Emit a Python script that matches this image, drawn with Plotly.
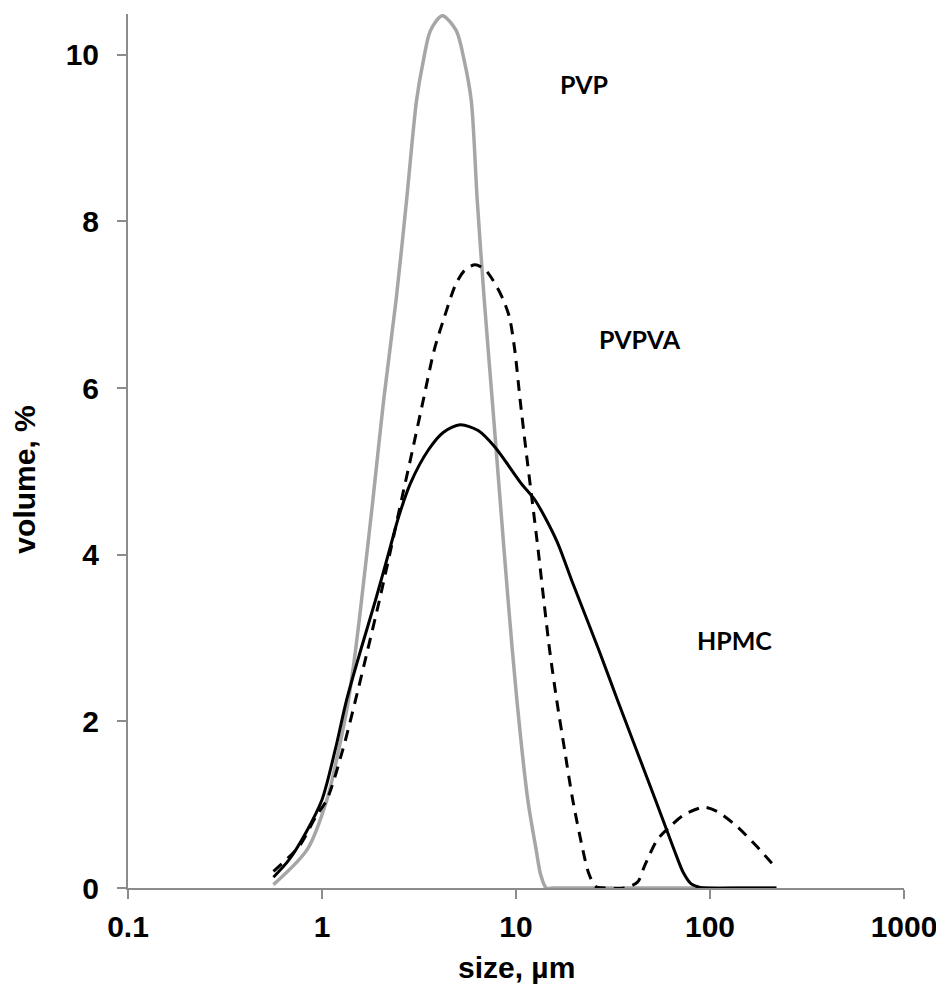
import plotly.graph_objects as go

# PVP (grey solid)
pvp_x = [0.562, 0.838, 1.06, 1.22, 1.37, 1.49, 1.60, 1.83, 2.08, 2.41, 2.73, 3.07, 3.33, 3.62,
         4.17, 4.92, 5.41, 5.88, 6.31, 6.86, 7.54, 8.28, 9.1, 10.1, 11.5, 12.7, 13.4,
         14.3, 15.5, 20, 30, 50, 100, 220]
pvp_y = [0.04, 0.46, 1.06, 1.66, 2.26, 2.86, 3.46, 4.66, 5.86, 7.06, 8.26, 9.45, 9.93, 10.29,
         10.47, 10.29, 9.93, 9.45, 8.26, 7.06, 5.86, 4.66, 3.46, 2.26, 1.06, 0.46, 0.16,
         0.0, 0.0, 0.0, 0.0, 0.0, 0.0, 0.0]

# HPMC (black solid)
hpmc_x = [0.562, 0.677, 0.828, 1.0, 1.17, 1.34, 1.585, 1.89, 2.23, 2.48, 2.86, 3.54, 4.23, 5.16,
          6.38, 7.8, 10.6, 12.5, 14.1, 16.4, 19.6, 26.7, 33.3, 52.3, 65.3, 72.7, 80.0, 87.9,
          97, 150, 220]
hpmc_y = [0.13, 0.34, 0.67, 1.06, 1.66, 2.26, 2.86, 3.46, 4.06, 4.45, 4.86, 5.26, 5.47, 5.56,
          5.49, 5.29, 4.86, 4.66, 4.45, 4.14, 3.66, 2.86, 2.26, 1.06, 0.46, 0.19, 0.05, 0.01,
          0.0, 0.0, 0.0]

# PVPVA (black dashed)
pvpva_x = [0.562, 0.762, 0.931, 1.06, 1.28, 1.49, 1.72, 1.98, 2.26, 2.57, 2.93, 3.33, 3.79, 4.27,
           4.92, 5.47, 6.16, 6.94, 7.86, 8.6, 9.25, 9.85, 10.5, 11.25, 12.1, 13.0, 13.9, 14.9,
           16.2, 17.8, 19.6, 22.1, 23.6, 25.7, 28.5, 36.2, 42.3, 45.9, 53.5, 62.4, 73.6, 93.1,
           108.6, 137.5, 174, 215]
pvpva_y = [0.2, 0.50, 0.86, 1.06, 1.66, 2.26, 2.86, 3.46, 4.06, 4.66, 5.26, 5.86, 6.46, 6.85,
           7.26, 7.42, 7.48, 7.42, 7.24, 7.06, 6.85, 6.46, 5.86, 5.26, 4.66, 4.06, 3.46, 2.86,
           2.26, 1.66, 1.06, 0.46, 0.19, 0.02, 0.0, 0.0, 0.07, 0.26, 0.58, 0.74, 0.88, 0.97,
           0.92, 0.74, 0.50, 0.26]

x_tickvals = [0.1, 1, 10, 100, 1000]
x_ticktext = ["0.1", "1", "10", "100", "1000"]
y_tickvals = [0, 2, 4, 6, 8, 10]
y_ticktext = ["0", "2", "4", "6", "8", "10"]

fig = go.Figure()
fig.add_trace(go.Scatter(x=pvp_x, y=pvp_y, mode="lines", name="PVP",
                         line=dict(color="#A6A6A6", width=3.5, shape="spline", smoothing=0.8)))
fig.add_trace(go.Scatter(x=hpmc_x, y=hpmc_y, mode="lines", name="HPMC",
                         line=dict(color="#000000", width=3, shape="spline", smoothing=0.8)))
fig.add_trace(go.Scatter(x=pvpva_x, y=pvpva_y, mode="lines", name="PVPVA",
                         line=dict(color="#000000", width=3, dash="11px,8px", shape="spline", smoothing=0.8)))

axis_font = dict(family="Liberation Sans, Arial, sans-serif", size=30, color="#000000", weight="bold")
label_font = dict(family="Lato, sans-serif", size=25, color="#000000", weight="bold")

# page body has an 8px default margin, so the figure is sized/placed to compensate
fig.update_layout(
    width=936, height=981,
    margin=dict(l=120, r=40, t=6, b=101, autoexpand=False),
    paper_bgcolor="white", plot_bgcolor="white",
    showlegend=False,
    font=axis_font,
    xaxis=dict(type="log", range=[-1, 3], tickvals=x_tickvals, ticktext=x_ticktext,
               automargin=False,
               showgrid=False, zeroline=False, showline=True, linecolor="#8C8C8C", linewidth=2,
               ticks="outside", ticklen=9, tickwidth=2, tickcolor="#8C8C8C",
               tickfont=axis_font, ticklabelstandoff=2),
    yaxis=dict(range=[0, 10.49], tickvals=y_tickvals, ticktext=y_ticktext,
               automargin=False,
               showgrid=False, zeroline=False, showline=True, linecolor="#8C8C8C", linewidth=2,
               ticks="outside", ticklen=9, tickwidth=2, tickcolor="#8C8C8C",
               tickfont=axis_font, ticklabelstandoff=12),
    annotations=[
        dict(text="size, µm", xref="paper", yref="paper", x=0.5, y=-0.091,
             xanchor="center", yanchor="middle", showarrow=False, font=axis_font),
        dict(text="volume, %", xref="paper", yref="paper", x=-0.133, y=0.467,
             xanchor="center", yanchor="middle", showarrow=False, textangle=-90, font=axis_font),
        dict(text="PVP", xref="paper", yref="paper", x=0.554, y=0.920,
             xanchor="left", yanchor="middle", showarrow=False, font=label_font),
        dict(text="PVPVA", xref="paper", yref="paper", x=0.604, y=0.628,
             xanchor="left", yanchor="middle", showarrow=False, font=label_font),
        dict(text="HPMC", xref="paper", yref="paper", x=0.731, y=0.284,
             xanchor="left", yanchor="middle", showarrow=False, font=label_font),
    ],
)

fig.write_html("out.html")
